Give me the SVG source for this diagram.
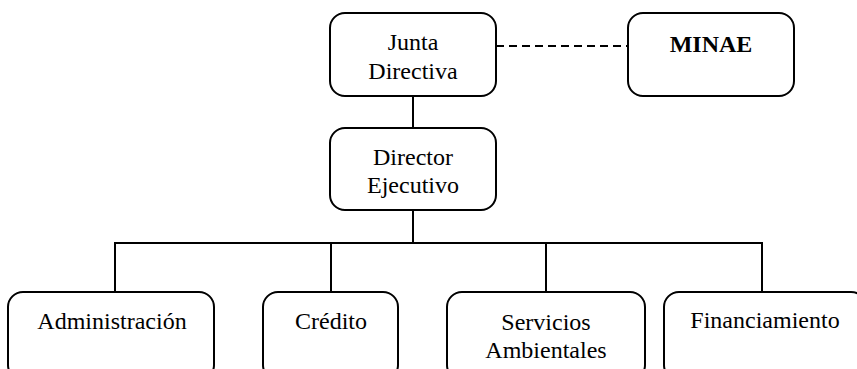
<svg xmlns="http://www.w3.org/2000/svg" width="857" height="369" viewBox="0 0 857 369">
<style>
.box{fill:#fff;stroke:#000;stroke-width:2}
.t{font-family:"Liberation Serif","Times New Roman",serif;font-size:24px;fill:#000;text-anchor:middle}
.b{font-weight:bold}
.ln{fill:none;stroke:#000;stroke-width:2}
.dash{stroke-dasharray:8 5}
</style>
<rect width="857" height="369" fill="#fff"/>
<g id="connectors">
<line class="ln dash" x1="496" y1="46" x2="628" y2="46"/>
<line class="ln" x1="413" y1="96" x2="413" y2="128"/>
<line class="ln" x1="413" y1="210" x2="413" y2="243"/>
<polyline class="ln" points="115,292 115,243 762,243 762,292"/>
<line class="ln" x1="331" y1="243" x2="331" y2="292"/>
<line class="ln" x1="546" y1="243" x2="546" y2="292"/>
</g>
<g id="junta">
<rect class="box" x="330" y="13" width="166" height="83" rx="15"/>
<text class="t" x="413" y="50">Junta</text>
<text class="t" x="413" y="79">Directiva</text>
</g>
<g id="minae">
<rect class="box" x="628" y="13" width="166" height="83" rx="15"/>
<text class="t b" x="711" y="52">MINAE</text>
</g>
<g id="director">
<rect class="box" x="330" y="128" width="166" height="82" rx="15"/>
<text class="t" x="413" y="165">Director</text>
<text class="t" x="413" y="193">Ejecutivo</text>
</g>
<g id="administracion">
<rect class="box" x="8" y="292" width="206" height="88" rx="15"/>
<text class="t" x="112" y="329">Administración</text>
</g>
<g id="credito">
<rect class="box" x="263" y="292" width="135" height="88" rx="15"/>
<text class="t" x="331" y="329">Crédito</text>
</g>
<g id="servicios">
<rect class="box" x="447" y="292" width="198" height="88" rx="15"/>
<text class="t" x="546" y="330">Servicios</text>
<text class="t" x="546" y="358">Ambientales</text>
</g>
<g id="financiamiento">
<rect class="box" x="664" y="292" width="202" height="88" rx="15"/>
<text class="t" x="765" y="328">Financiamiento</text>
</g>
</svg>
